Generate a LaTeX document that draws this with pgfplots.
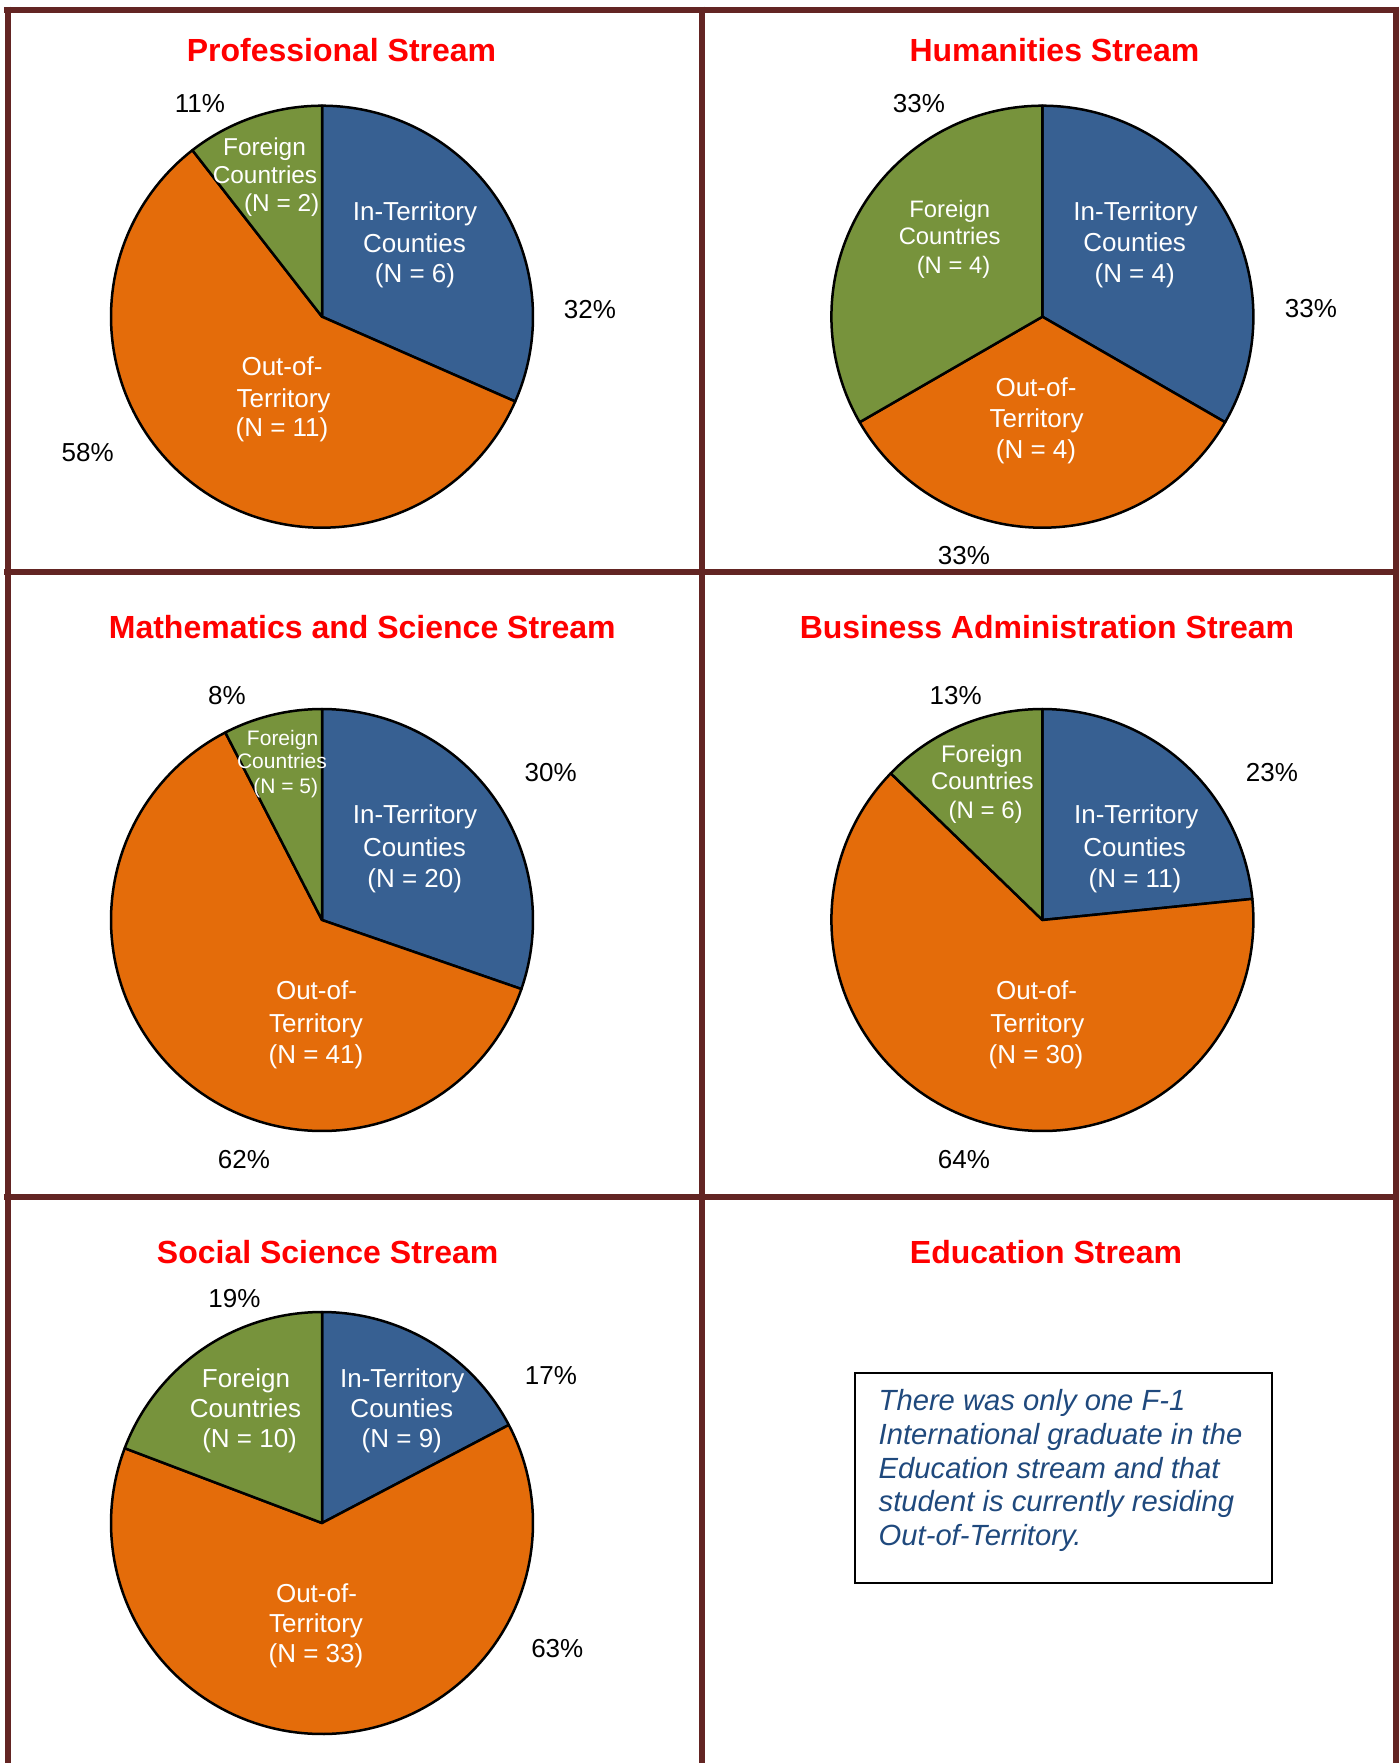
\documentclass[border=0pt]{standalone}
\usepackage{pgfplots}
\pgfplotsset{compat=1.18}
\usepackage{fontspec}
\setmainfont{Liberation Sans}
\definecolor{pieblue}{HTML}{376092}
\definecolor{pieorange}{HTML}{E46C0A}
\definecolor{piegreen}{HTML}{77933C}
\definecolor{framecol}{HTML}{632523}
\definecolor{titlered}{HTML}{FF0000}
\definecolor{notecol}{HTML}{1F497D}

% one wedge: cx, cy, r, from angle, to angle, colour
\newcommand{\pwedge}[6]{%
  \addplot[draw=black, line width=1.25pt, fill=#6, line join=round, domain=#4:#5, samples=120]
    ({#1+#3*cos(x)},{#2-#3*sin(x)}) -- (axis cs:#1,#2) -- cycle;}
% a pie: cx, cy, r, N in-territory, N out-of-territory, N foreign
\newcommand{\pie}[6]{%
  \pgfmathsetmacro{\tot}{#4+#5+#6}%
  \pgfmathsetmacro{\aA}{90-(#4/\tot)*360}%
  \pgfmathsetmacro{\aB}{90-((#4+#5)/\tot)*360}%
  \edef\doit{\noexpand\pwedge{#1}{#2}{#3}{\aA}{90}{pieblue}%
    \noexpand\pwedge{#1}{#2}{#3}{\aB}{\aA}{pieorange}%
    \noexpand\pwedge{#1}{#2}{#3}{-270}{\aB}{piegreen}}%
  \doit}
% text line: [options] x, y (baseline), size, text
\newcommand{\tl}[5][]{\node[anchor=base, inner sep=0pt, #1] at (axis cs:#2,#3) {\fontsize{#4}{#4}\selectfont #5};}
\newcommand{\ttl}[3]{\node[anchor=base, inner sep=0pt, text=titlered] at (axis cs:#1,#2) {\fontsize{16}{16}\selectfont\bfseries #3};}

\begin{document}
\begin{tikzpicture}
\begin{axis}[name=ax, x=0.5pt, y=0.5pt, y dir=reverse,
  xmin=0, xmax=1399, ymin=0, ymax=1763, hide axis, clip=false]

% frame
\draw[framecol, line width=3pt] (axis cs:4,9.5) -- (axis cs:1399,9.5);
\draw[framecol, line width=3pt] (axis cs:7.5,6.5) -- (axis cs:7.5,1763);
\draw[framecol, line width=3pt] (axis cs:1396,6.5) -- (axis cs:1396,1763);
\draw[framecol, line width=3pt] (axis cs:702,6.5) -- (axis cs:702,1763);
\draw[framecol, line width=3pt] (axis cs:4,572) -- (axis cs:1399,572);
\draw[framecol, line width=3pt] (axis cs:4,1197) -- (axis cs:1399,1197);

% pies
\pie{322}{316.7}{211}{6}{11}{2}
\pie{1042.4}{316.7}{211}{4}{4}{4}
\pie{322}{920}{211}{20}{41}{5}
\pie{1042.4}{920}{211}{11}{30}{6}
\pie{322}{1523}{211}{9}{33}{10}

% titles
\ttl{341.5}{61}{Professional Stream}
\ttl{1054.5}{61}{Humanities Stream}
\ttl{362.3}{638}{Mathematics and Science Stream}
\ttl{1047}{638}{Business Administration Stream}
\ttl{327.7}{1263}{Social Science Stream}
\ttl{1046}{1263}{Education Stream}

% percentages
\tl{200}{112.8}{13}{11\%}
\tl{590}{318.5}{13}{32\%}
\tl{87.7}{461.7}{13}{58\%}
\tl{919}{112.8}{13}{33\%}
\tl{1311}{317.4}{13}{33\%}
\tl{964}{564}{13}{33\%}
\tl{227}{704.6}{13}{8\%}
\tl{550.7}{781}{13}{30\%}
\tl{244}{1168.6}{13}{62\%}
\tl{955.6}{704.6}{13}{13\%}
\tl{1272}{781}{13}{23\%}
\tl{964}{1168.6}{13}{64\%}
\tl{234.4}{1307.7}{13}{19\%}
\tl{551}{1384.4}{13}{17\%}
\tl{557.3}{1657.8}{13}{63\%}

% Professional inner labels
\tl[text=white]{415}{220}{13}{In-Territory}
\tl[text=white]{414.5}{252}{13}{Counties}
\tl[text=white]{415}{282.3}{13}{(N = 6)}
\tl[text=white]{282}{375.5}{13}{Out-of-}
\tl[text=white]{283.5}{407}{13}{Territory}
\tl[text=white]{282}{436.6}{13}{(N = 11)}
\tl[text=white]{264.5}{155.5}{12.2}{Foreign}
\tl[text=white]{265}{183.3}{12.2}{Countries}
\tl[text=white]{281.7}{211}{12.2}{(N = 2)}

% Humanities inner labels
\tl[text=white]{1135.6}{220}{13}{In-Territory}
\tl[text=white]{1134.7}{251.6}{13}{Counties}
\tl[text=white]{1134.7}{282.3}{13}{(N = 4)}
\tl[text=white]{949.7}{217.5}{11.9}{Foreign}
\tl[text=white]{949.7}{244.2}{11.9}{Countries}
\tl[text=white]{953.5}{273}{11.9}{(N = 4)}
\tl[text=white]{1036}{396.6}{13}{Out-of-}
\tl[text=white]{1036.6}{427.3}{13}{Territory}
\tl[text=white]{1036}{458}{13}{(N = 4)}

% Mathematics inner labels
\tl[text=white]{415}{823}{13}{In-Territory}
\tl[text=white]{414.5}{856}{13}{Counties}
\tl[text=white]{414.7}{887.4}{13}{(N = 20)}
\tl[text=white]{316.5}{999.9}{13}{Out-of-}
\tl[text=white]{316}{1032}{13}{Territory}
\tl[text=white]{316}{1063.4}{13}{(N = 41)}
\tl[text=white]{282.6}{745.6}{10.5}{Foreign}
\tl[text=white]{282}{768.9}{10.5}{Countries}
\tl[text=white]{285.7}{793}{10.5}{(N = 5)}

% Business inner labels
\tl[text=white]{1136.2}{823}{13}{In-Territory}
\tl[text=white]{1134.7}{856}{13}{Counties}
\tl[text=white]{1135}{887.4}{13}{(N = 11)}
\tl[text=white]{1036.6}{999.9}{13}{Out-of-}
\tl[text=white]{1037.3}{1032}{13}{Territory}
\tl[text=white]{1036}{1063.4}{13}{(N = 30)}
\tl[text=white]{981.7}{762}{12}{Foreign}
\tl[text=white]{982.4}{789}{12}{Countries}
\tl[text=white]{985.7}{818.3}{12}{(N = 6)}

% Social Science inner labels
\tl[text=white]{402.2}{1387.4}{13}{In-Territory}
\tl[text=white]{401.8}{1417.3}{13}{Counties}
\tl[text=white]{401.8}{1447.7}{13}{(N = 9)}
\tl[text=white]{246}{1387.4}{13}{Foreign}
\tl[text=white]{245.5}{1417.3}{13}{Countries}
\tl[text=white]{249.6}{1447.7}{13}{(N = 10)}
\tl[text=white]{316.5}{1602.3}{13}{Out-of-}
\tl[text=white]{316}{1632.3}{13}{Territory}
\tl[text=white]{316}{1662.6}{13}{(N = 33)}

% Education note
\draw[black, line width=1pt] (axis cs:854.7,1372.7) rectangle (axis cs:1272,1582.9);
\tl[anchor=base west, text=notecol]{878.3}{1410.4}{14.6}{\itshape There was only one F-1}
\tl[anchor=base west, text=notecol]{878.3}{1444}{14.6}{\itshape International graduate in the}
\tl[anchor=base west, text=notecol]{878.3}{1478}{14.6}{\itshape Education stream and that}
\tl[anchor=base west, text=notecol]{878.3}{1511.6}{14.6}{\itshape student is currently residing}
\tl[anchor=base west, text=notecol]{878.3}{1545.3}{14.6}{\itshape Out-of-Territory.}
\end{axis}
\pgfresetboundingbox
\useasboundingbox (ax.south west) rectangle (ax.north east);
\end{tikzpicture}
\end{document}
